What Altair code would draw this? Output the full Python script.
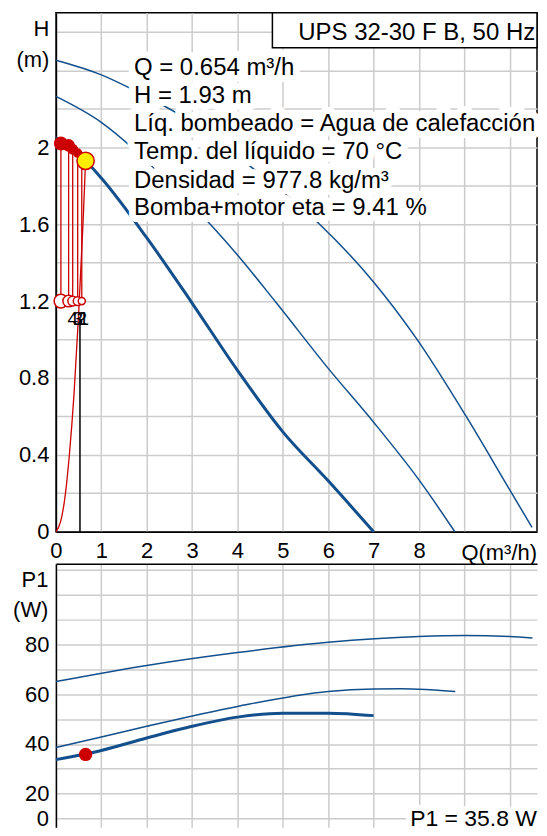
import altair as alt
import pandas as pd

FONT = "Liberation Sans"
BLUE = "#124f8c"
RED = "#cc0000"
GRID = "#cccccc"

# ---------------- data ----------------
# Head curves H(Q)  (Q in m³/h, H in m)
Q_SEL = [0.0, 0.654, 1.0, 2.0, 3.0, 4.0, 5.0, 6.0, 7.0]
H_SEL = [2.05, 1.93, 1.84, 1.53, 1.19, 0.84, 0.52, 0.265, 0.0]
Q_MID = [0.0, 1.0, 1.72, 2.5, 3.4, 4.0, 4.86, 6.0, 7.0, 8.0, 8.79]
H_MID = [2.265, 2.13, 1.99, 1.81, 1.60, 1.44, 1.19, 0.85, 0.57, 0.27, 0.0]
Q_TOP = [0.0, 0.99, 1.72, 3.0, 4.5, 5.81, 6.98, 7.93, 9.03, 9.99, 10.49]
H_TOP = [2.453, 2.378, 2.297, 2.13, 1.86, 1.60, 1.305, 1.01, 0.604, 0.222, 0.023]

# system curve (red)
Q_SYS = [0.0, 0.1, 0.2, 0.3, 0.4, 0.5, 0.6, 0.654]
H_SYS = [0.0, 0.05, 0.18, 0.41, 0.72, 1.13, 1.62, 1.93]

# P1 curves (W)
Q_P_SEL = [0, 1, 2, 3, 4, 5, 6, 7]
P_SEL = [33.7, 37.4, 42.4, 47.1, 50.8, 52.4, 52.4, 51.4]
Q_P_MID = [0, 1, 2, 4, 6, 7, 7.6, 8, 8.8]
P_MID = [38.6, 42.8, 47.1, 55.1, 61.1, 62.1, 62.2, 62.0, 61.1]
Q_P_TOP = [0, 2, 4, 6, 8, 9, 10, 10.5]
P_TOP = [65.1, 71.6, 76.8, 80.9, 83.2, 83.6, 83.2, 82.6]

# duty point
DUTY_Q = 0.654
DUTY_H = 1.93
DUTY_P = 35.8

# red speed markers
MARK_Q = [0.11, 0.28, 0.37, 0.48, 0.57]
MARK_H_HIGH = [2.02, 2.01, 1.99, 1.97, 1.95]
MARK_H_LOW = [1.2, 1.2, 1.2, 1.2, 1.2]
MARK_SIZE_HIGH = [200, 160, 120, 90, 60]
MARK_SIZE_LOW = [186, 133, 95, 79, 50]
NUM_LABELS = ["4", "3", "2", "1"]
NUM_Q = [0.374, 0.484, 0.572, 0.616]
NUM_H = [1.075, 1.075, 1.075, 1.075]

# black marker line
BLACK_Q = [0.53]
BLACK_H0 = [0.0]
BLACK_H1 = [1.11]

INFO_TEXT = ["Q = 0.654 m³/h", "H = 1.93 m", "Líq. bombeado = Agua de calefacción",
             "Temp. del líquido = 70 °C", "Densidad = 977.8 kg/m³", "Bomba+motor eta = 9.41 %"]
INFO_Q = 1.72
INFO_H = [2.378, 2.233, 2.087, 1.937, 1.789, 1.646]

TITLE = "UPS 32-30 F B, 50 Hz"
TITLE_BOX = {"q": 4.77, "q2": 10.6, "h": 2.518, "h2": 2.7}
TITLE_POS = {"q": 7.95, "h": 2.558}

X_DOM = [0, 10.6]
H_DOM = [0, 2.7]
P_DOM = [6.5, 112.5]
X_GRID = [0, 1, 2, 3, 4, 5, 6, 7, 8, 9, 10]
H_GRID = [0, 0.2, 0.4, 0.6, 0.8, 1.0, 1.2, 1.4, 1.6, 1.8, 2.0, 2.2, 2.4, 2.6]
H_LAB = [0, 0.4, 0.8, 1.2, 1.6, 2]
P_GRID = [10, 20, 30, 40, 50, 60, 70, 80, 90, 100, 110]
P_LAB = [20, 40, 60, 80]

W = 482
H_TOP_PX = 520
H_BOT_PX = 264

# ---------------- scales / axes ----------------
xs = alt.Scale(domain=X_DOM, nice=False, zero=False)
hs = alt.Scale(domain=H_DOM, nice=False, zero=False)
ps = alt.Scale(domain=P_DOM, nice=False, zero=False)

x_axis_top = alt.Axis(values=X_GRID, format="~g", labelExpr="datum.value <= 8 ? datum.label : ''",
                      grid=True, ticks=False, domain=True, domainColor="black", domainWidth=1.5,
                      labelPadding=9, labelFlush=False, labelOverlap=False, title=None)
h_axis = alt.Axis(values=H_GRID, format="~g",
                  labelExpr="indexof(" + str(H_LAB) + ", datum.value) >= 0 ? datum.label : ''",
                  grid=True, ticks=False, domain=True, domainColor="black", domainWidth=1.5,
                  labelPadding=7, labelOverlap=False, labelFlush=False,
                  title=["H", "(m)"], titleAngle=0, titleAlign="right", titleBaseline="alphabetic",
                  titleX=-7, titleY=23, titleLineHeight=31)
x_axis_bot = alt.Axis(values=X_GRID, orient="top", labels=False, ticks=False, grid=True,
                      domain=True, domainColor="black", domainWidth=1.5, title=None)
p_axis = alt.Axis(values=P_GRID, format="~g",
                  labelExpr="indexof(" + str(P_LAB) + ", datum.value) >= 0 ? datum.label : ''",
                  grid=True, ticks=False, domain=True, domainColor="black", domainWidth=1.5,
                  labelPadding=7, labelOverlap=False, labelFlush=False,
                  title=["P1", "(W)"], titleAngle=0, titleAlign="right", titleBaseline="alphabetic",
                  titleX=-8, titleY=23, titleLineHeight=30)


def X(f="q"):
    return alt.X(f + ":Q", scale=xs, axis=x_axis_top)


def Y(f="h"):
    return alt.Y(f + ":Q", scale=hs, axis=h_axis)


def XB(f="q"):
    return alt.X(f + ":Q", scale=xs, axis=x_axis_bot)


def YP(f="p"):
    return alt.Y(f + ":Q", scale=ps, axis=p_axis)


# ---------------- top chart ----------------
df_sel = pd.DataFrame({"q": Q_SEL, "h": H_SEL})
df_thin = pd.concat([
    pd.DataFrame({"q": Q_MID, "h": H_MID, "c": "mid"}),
    pd.DataFrame({"q": Q_TOP, "h": H_TOP, "c": "top"}),
])
df_sys = pd.DataFrame({"q": Q_SYS, "h": H_SYS})
df_marks = pd.DataFrame({"q": MARK_Q, "h": MARK_H_HIGH, "hl": MARK_H_LOW,
                         "sh": MARK_SIZE_HIGH, "sl": MARK_SIZE_LOW})
df_nums = pd.DataFrame({"q": NUM_Q, "h": NUM_H, "t": NUM_LABELS})
df_black = pd.DataFrame({"q": BLACK_Q, "h": BLACK_H0, "h1": BLACK_H1})
df_duty = pd.DataFrame({"q": [DUTY_Q], "h": [DUTY_H]})
df_info = pd.DataFrame({"q": INFO_Q, "h": INFO_H, "t": INFO_TEXT})
df_tbox = pd.DataFrame([TITLE_BOX])
df_title = pd.DataFrame([{**TITLE_POS, "t": TITLE}])
df_qlab = pd.DataFrame({"q": [X_DOM[1]], "h": [-0.145], "t": ["Q(m³/h)"]})

sel = alt.Chart(df_sel).mark_line(color=BLUE, strokeWidth=3, interpolate="monotone").encode(x=X(), y=Y())
thin = alt.Chart(df_thin).mark_line(color=BLUE, strokeWidth=1.5, interpolate="monotone").encode(
    x=X(), y=Y(), detail="c:N")
sysc = alt.Chart(df_sys).mark_line(color=RED, strokeWidth=1.3, interpolate="monotone").encode(x=X(), y=Y())
black = alt.Chart(df_black).mark_rule(color="black", strokeWidth=1.5).encode(
    x=X(), y=Y(), y2="h1:Q")
vrules = alt.Chart(df_marks).mark_rule(color=RED, strokeWidth=1.3).encode(x=X(), y=Y(), y2="hl:Q")
high = alt.Chart(df_marks).mark_point(shape="circle", filled=True, color=RED, opacity=1).encode(
    x=X(), y=Y(), size=alt.Size("sh:Q", scale=None))
low = alt.Chart(df_marks).mark_point(shape="circle", filled=True, fill="white", stroke=RED,
                                     strokeWidth=1.5, opacity=1).encode(
    x=X(), y=Y("hl"), size=alt.Size("sl:Q", scale=None))
nums = alt.Chart(df_nums).mark_text(font=FONT, fontSize=19, color="black", align="center",
                                    baseline="alphabetic").encode(x=X(), y=Y(), text="t:N")
duty = alt.Chart(df_duty).mark_point(shape="circle", filled=True, fill="#ffee00", stroke=RED,
                                     strokeWidth=1.5, size=300, opacity=1).encode(x=X(), y=Y())
info_halo = alt.Chart(df_info).mark_text(font=FONT, fontSize=24, align="left", baseline="alphabetic",
                                         color="white", stroke="white", strokeWidth=14,
                                         strokeJoin="round").encode(x=X(), y=Y(), text="t:N")
info = alt.Chart(df_info).mark_text(font=FONT, fontSize=24, align="left", baseline="alphabetic",
                                    color="black").encode(x=X(), y=Y(), text="t:N")
tbox = alt.Chart(df_tbox).mark_rect(fill="white", stroke="black", strokeWidth=1.5).encode(
    x=X(), x2="q2:Q", y=Y(), y2="h2:Q")
ttext = alt.Chart(df_title).mark_text(font=FONT, fontSize=24, align="center", baseline="alphabetic",
                                      color="black").encode(x=X(), y=Y(), text="t:N")
qlab = alt.Chart(df_qlab).mark_text(font=FONT, fontSize=22, align="right", baseline="alphabetic",
                                    color="black").encode(x=X(), y=Y(), text="t:N")

top = alt.layer(sel, thin, sysc, black, vrules, high, low, nums, duty,
                info_halo, info, tbox, ttext, qlab).properties(
    width=W, height=H_TOP_PX, view=alt.ViewBackground(stroke="black", strokeWidth=1.5))

# ---------------- bottom chart ----------------
df_psel = pd.DataFrame({"q": Q_P_SEL, "p": P_SEL})
df_pthin = pd.concat([
    pd.DataFrame({"q": Q_P_MID, "p": P_MID, "c": "mid"}),
    pd.DataFrame({"q": Q_P_TOP, "p": P_TOP, "c": "top"}),
])
df_pduty = pd.DataFrame({"q": [DUTY_Q], "p": [DUTY_P]})
df_ptext = pd.DataFrame({"q": [10.6], "p": [P_DOM[0] + 0.3], "t": ["P1 = 35.8 W"]})
df_zero = pd.DataFrame({"p": [P_DOM[0] + 0.3], "t": ["0"]})

pbase = alt.Chart(df_psel).mark_line(color=BLUE, strokeWidth=3, interpolate="monotone").encode(
    x=XB(), y=YP())
pthin = alt.Chart(df_pthin).mark_line(color=BLUE, strokeWidth=1.5, interpolate="monotone").encode(
    x=XB(), y=YP(), detail="c:N")
pduty = alt.Chart(df_pduty).mark_point(shape="circle", filled=True, color=RED, size=180,
                                       opacity=1).encode(x=XB(), y=YP())
phalo = alt.Chart(df_ptext).mark_text(font=FONT, fontSize=23, align="right", baseline="alphabetic",
                                      color="white", stroke="white", strokeWidth=12,
                                      strokeJoin="round").encode(x=XB(), y=YP(), text="t:N")
ptext = alt.Chart(df_ptext).mark_text(font=FONT, fontSize=23, align="right", baseline="alphabetic",
                                      color="black").encode(x=XB(), y=YP(), text="t:N")
zero = alt.Chart(df_zero).mark_text(font=FONT, fontSize=22, align="right", baseline="alphabetic",
                                    color="black").encode(x=alt.value(-7), y=YP(), text="t:N")

bottom = alt.layer(pbase, pthin, pduty, phalo, ptext, zero).properties(
    width=W, height=H_BOT_PX, view=alt.ViewBackground(stroke=None))

chart = alt.vconcat(top, bottom, spacing=32, bounds="flush").properties(
    padding={"left": 4, "top": 2, "right": 0, "bottom": 0}
).configure(font=FONT, background="white").configure_axis(
    labelFont=FONT, titleFont=FONT, labelColor="black", titleColor="black",
    gridColor=GRID, gridWidth=1.5, labelFontSize=22, titleFontSize=22, titleFontWeight="normal"
).configure_view(stroke=None)

chart.save("out.html", embed_options={"renderer": "svg", "actions": False})
